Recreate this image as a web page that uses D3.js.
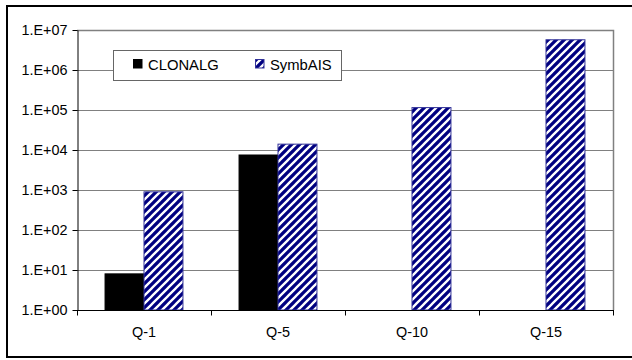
<!DOCTYPE html>
<html>
<head>
<meta charset="utf-8">
<script src="https://cdn.jsdelivr.net/npm/d3@7"></script>
<style>
  html, body { margin: 0; padding: 0; background: #fff; }
  svg { display: block; font-family: "Liberation Sans", Arial, sans-serif; }
</style>
</head>
<body>
<svg id="chart" width="632" height="360"></svg>
<script>
// Query sizes and the evaluation counts per algorithm (log scale)
const categories = ["Q-1", "Q-5", "Q-10", "Q-15"];
const seriesNames = ["CLONALG", "SymbAIS"];
const clonalgValues = [8, 7500, null, null];
const symbaisValues = [900, 14000, 115000, 5700000];
const tickValues = [1e0, 1e1, 1e2, 1e3, 1e4, 1e5, 1e6, 1e7];
const tickLabels = ["1.E+00", "1.E+01", "1.E+02", "1.E+03", "1.E+04", "1.E+05", "1.E+06", "1.E+07"];

const seriesValues = { CLONALG: clonalgValues, SymbAIS: symbaisValues };

const svg = d3.select("#chart");
const plot = { left: 77, right: 613, top: 30, bottom: 310 };

// Diagonal hatch used for SymbAIS bars
const defs = svg.append("defs");
const pat = defs.append("pattern")
  .attr("id", "hatch")
  .attr("patternUnits", "userSpaceOnUse")
  .attr("width", 8).attr("height", 8);
pat.append("rect").attr("width", 8).attr("height", 8).attr("fill", "#000080");
pat.append("path")
  .attr("d", "M-2,2 L2,-2 M0,8 L8,0 M6,10 L10,6")
  .attr("stroke", "#fff").attr("stroke-width", 2.3);

const fills = { CLONALG: "#000", SymbAIS: "url(#hatch)" };
const strokes = { CLONALG: "#000", SymbAIS: "#333399" };

// Outer frame
svg.append("rect")
  .attr("x", 7).attr("y", 6).attr("width", 640).attr("height", 351)
  .attr("fill", "none").attr("stroke", "#000").attr("stroke-width", 2);

const y = d3.scaleLog().domain([1, 1e7]).range([plot.bottom, plot.top]);
const x0 = d3.scaleBand().domain(categories).range([plot.left, plot.right]).padding(0);
const x1 = d3.scaleBand().domain(seriesNames).range([0, x0.bandwidth()])
  .paddingInner(0).paddingOuter(0.72);

// Gridlines
svg.append("g")
  .selectAll("line")
  .data(tickValues.slice(1, -1))
  .join("line")
  .attr("x1", plot.left).attr("x2", plot.right)
  .attr("y1", d => Math.round(y(d)) + 0.5).attr("y2", d => Math.round(y(d)) + 0.5)
  .attr("stroke", "#808080").attr("stroke-width", 1);

// Plot area border (top and right)
svg.append("path")
  .attr("d", `M${plot.left},${plot.top + 0.5}H${plot.right + 0.5}V${plot.bottom}`)
  .attr("fill", "none").attr("stroke", "#808080").attr("stroke-width", 1.5);

// Bars
const barData = [];
categories.forEach((c, i) => {
  seriesNames.forEach(s => {
    const v = seriesValues[s][i];
    if (v != null) barData.push({ c, s, v });
  });
});
svg.append("g")
  .selectAll("rect")
  .data(barData)
  .join("rect")
  .attr("x", d => x0(d.c) + x1(d.s))
  .attr("y", d => y(d.v))
  .attr("width", x1.bandwidth())
  .attr("height", d => y(1) - y(d.v))
  .attr("fill", d => fills[d.s])
  .attr("stroke", d => strokes[d.s])
  .attr("stroke-width", 1);

// Y axis
const yAxis = d3.axisLeft(y)
  .tickValues(tickValues)
  .tickFormat((d, i) => tickLabels[i])
  .tickSizeOuter(0).tickSizeInner(5).tickPadding(5);
const gy = svg.append("g").attr("transform", `translate(${plot.left + 0.5},0)`).call(yAxis);
gy.select(".domain").attr("stroke", "#000");
gy.selectAll(".tick line").attr("stroke", "#000");
gy.selectAll(".tick text").attr("font-size", "14.4px").attr("fill", "#000");

// X axis with ticks on category boundaries
const gx = svg.append("g").attr("transform", `translate(0,${plot.bottom + 0.5})`);
gx.append("line")
  .attr("x1", plot.left).attr("x2", plot.right + 1)
  .attr("stroke", "#000");
gx.selectAll("line.tk")
  .data(categories.map(c => x0(c)).concat([plot.right]))
  .join("line").attr("class", "tk")
  .attr("x1", d => Math.round(d) + 0.5).attr("x2", d => Math.round(d) + 0.5)
  .attr("y1", 0).attr("y2", 5)
  .attr("stroke", "#000");
gx.selectAll("text")
  .data(categories)
  .join("text")
  .attr("x", d => x0(d) + x0.bandwidth() / 2)
  .attr("y", 26)
  .attr("text-anchor", "middle")
  .attr("font-size", "14.4px")
  .text(d => d);

// Legend
const lg = svg.append("g");
lg.append("rect")
  .attr("x", 113.5).attr("y", 50.5).attr("width", 228).attr("height", 30)
  .attr("fill", "#fff").attr("stroke", "#666").attr("stroke-width", 1);
const legendX = [133, 255];
seriesNames.forEach((s, i) => {
  lg.append("rect")
    .attr("x", legendX[i] + 0.5).attr("y", 59.5).attr("width", 8.5).attr("height", 8.5)
    .attr("fill", fills[s]).attr("stroke", strokes[s]).attr("stroke-width", 1);
  lg.append("text")
    .attr("x", legendX[i] + 15).attr("y", 69.5)
    .attr("font-size", "14.8px")
    .text(s);
});
</script>
</body>
</html>
